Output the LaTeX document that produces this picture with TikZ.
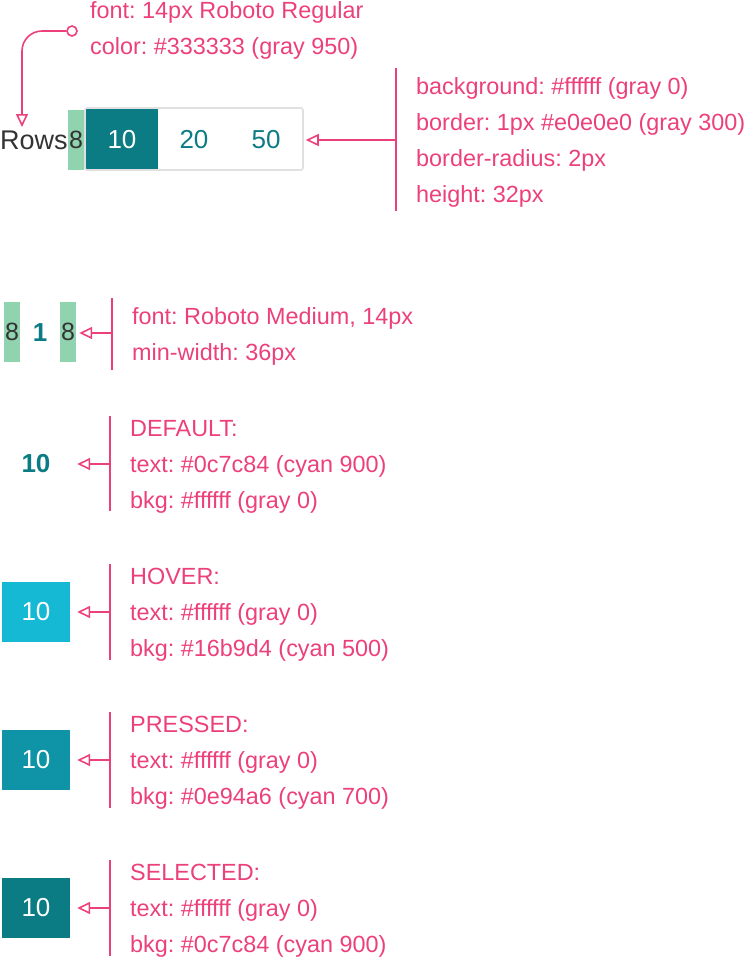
\documentclass[tikz,border=0pt]{standalone}
\usepackage{fontspec}
\setmainfont{Liberation Sans}
\usetikzlibrary{arrows.meta}
\definecolor{pinkc}{HTML}{EC407A}
\definecolor{tealc}{HTML}{0C7C84}
\definecolor{hoverc}{HTML}{16B9D4}
\definecolor{pressc}{HTML}{0E94A6}
\definecolor{greenc}{HTML}{8FD3AF}
\definecolor{darkc}{HTML}{333333}
\definecolor{borderc}{HTML}{E0E0E0}
\frenchspacing
\tikzset{
  note/.style={anchor=base west, inner sep=0pt, text=pinkc, font=\fontsize{23.4}{28}\selectfont},
  num/.style={inner sep=0pt, font=\fontsize{26}{30}\selectfont},
  greenbar/.style={fill=greenc, inner sep=0pt, minimum width=16pt, minimum height=60pt, text=darkc, font=\fontsize{25}{28}\selectfont},
  cell/.style={inner sep=0pt, minimum width=68pt, minimum height=60pt, text=white, font=\fontsize{26}{30}\selectfont},
  leader/.style={draw=pinkc, line width=1.6pt},
  pointer/.style={draw=pinkc, line width=1.6pt, -{Triangle[open, length=13pt, width=12pt, line width=1.6pt]}},
}
\begin{document}
\begin{tikzpicture}[x=1pt, y=-1pt]
\useasboundingbox (0,0) rectangle (748,958);
% ---------- Section 1 ----------
\node[note] (f1) at (90,19) {font: 14px Roboto Regular};
\node[note] (f2) at (90,55) {color: \#333333 (gray 950)};
\node[draw=pinkc, fill=white, circle, line width=1.6pt, minimum size=10pt, inner sep=0pt] (dot) at (72,31) {};
\node[anchor=base west, inner sep=0pt, text=darkc, font=\fontsize{27}{30}\selectfont] (rows) at (0,149) {Rows};
\node[greenbar] (g0) at (76,140) {8};
\node[fill=tealc, inner sep=0pt, minimum width=72pt, minimum height=61pt] (selcell) at (122,139) {};
\node[draw=borderc, line width=1.6pt, rounded corners=2pt, minimum width=218pt, minimum height=62pt, inner sep=0pt] (pager) at (194,139) {};
\node[num, text=white] (p10) at (122,140) {10};
\node[num, text=tealc] (p20) at (194,140) {20};
\node[num, text=tealc] (p50) at (266,140) {50};
\coordinate (rowsTop) at (22,127);
\draw[pointer, rounded corners=20pt] (dot.west) -- (22,31) -- (rowsTop);
\node[note] (b1) at (416,94) {background: \#ffffff (gray 0)};
\node[note] (b2) at (416,130) {border: 1px \#e0e0e0 (gray 300)};
\node[note] (b3) at (416,166) {border-radius: 2px};
\node[note] (b4) at (416,202) {height: 32px};
\coordinate (br1a) at (396,68);
\coordinate (br1b) at (396,211);
\coordinate (br1m) at (396,140);
\draw[leader] (br1a) -- (br1b);
\draw[pointer] (br1m) -- ([xshift=2pt]pager.east |- br1m);
% ---------- Section 2 ----------
\node[greenbar] (g1) at (12,332) {8};
\node[num, text=tealc, font=\fontsize{26}{30}\selectfont\bfseries] (one) at (40,333) {1};
\node[greenbar] (g2) at (68,332) {8};
\coordinate (br2a) at (112,298);
\coordinate (br2b) at (112,370);
\coordinate (br2m) at (112,333);
\draw[leader] (br2a) -- (br2b);
\draw[pointer] (br2m) -- ([xshift=3pt]g2.east |- br2m);
\node[note] (m1) at (132,324) {font: Roboto Medium, 14px};
\node[note] (m2) at (132,360) {min-width: 36px};
% ---------- Default ----------
\node[num, text=tealc, font=\fontsize{26}{30}\selectfont\bfseries, minimum width=68pt] (def) at (36,464) {10};
\coordinate (br3a) at (110,416);
\coordinate (br3b) at (110,511);
\coordinate (br3m) at (110,464);
\draw[leader] (br3a) -- (br3b);
\draw[pointer] (br3m) -- ([xshift=7pt]def.east |- br3m);
\node[note] (d1) at (130,436) {DEFAULT:};
\node[note] (d2) at (130,472) {text: \#0c7c84 (cyan 900)};
\node[note] (d3) at (130,508) {bkg: \#ffffff (gray 0)};
% ---------- Hover ----------
\node[cell, fill=hoverc] (hov) at (36,612) {10};
\coordinate (br4a) at (110,564);
\coordinate (br4b) at (110,660);
\coordinate (br4m) at (110,612);
\draw[leader] (br4a) -- (br4b);
\draw[pointer] (br4m) -- ([xshift=7pt]hov.east |- br4m);
\node[note] (h1) at (130,584) {HOVER:};
\node[note] (h2) at (130,620) {text: \#ffffff (gray 0)};
\node[note] (h3) at (130,656) {bkg: \#16b9d4 (cyan 500)};
% ---------- Pressed ----------
\node[cell, fill=pressc] (pre) at (36,760) {10};
\coordinate (br5a) at (110,712);
\coordinate (br5b) at (110,808);
\coordinate (br5m) at (110,760);
\draw[leader] (br5a) -- (br5b);
\draw[pointer] (br5m) -- ([xshift=7pt]pre.east |- br5m);
\node[note] (r1) at (130,732) {PRESSED:};
\node[note] (r2) at (130,768) {text: \#ffffff (gray 0)};
\node[note] (r3) at (130,804) {bkg: \#0e94a6 (cyan 700)};
% ---------- Selected ----------
\node[cell, fill=tealc] (sel) at (36,908) {10};
\coordinate (br6a) at (110,860);
\coordinate (br6b) at (110,956);
\coordinate (br6m) at (110,908);
\draw[leader] (br6a) -- (br6b);
\draw[pointer] (br6m) -- ([xshift=7pt]sel.east |- br6m);
\node[note] (s1) at (130,880) {SELECTED:};
\node[note] (s2) at (130,916) {text: \#ffffff (gray 0)};
\node[note] (s3) at (130,952) {bkg: \#0c7c84 (cyan 900)};
\end{tikzpicture}
\end{document}
